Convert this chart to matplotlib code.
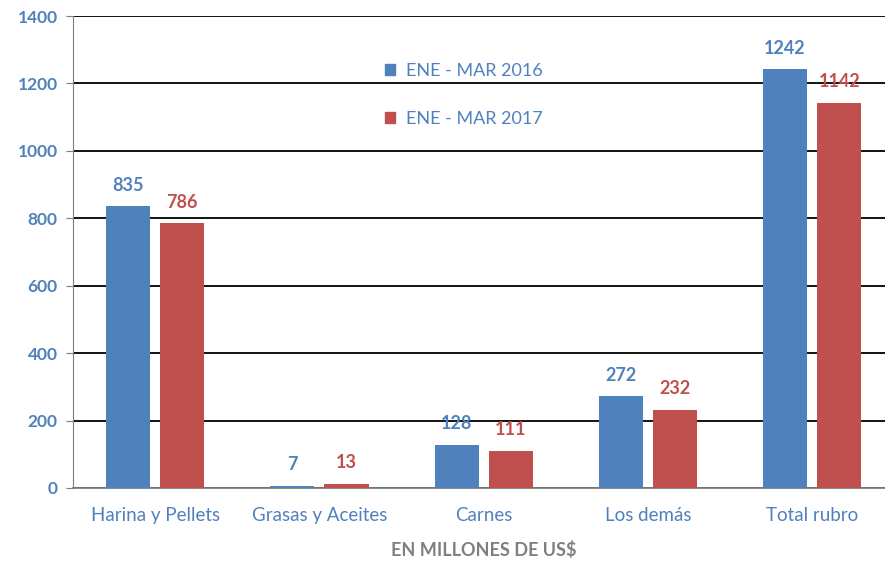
import matplotlib
matplotlib.use("Agg")
import matplotlib.pyplot as plt
import numpy as np
from matplotlib.patches import Patch

categories = ["Harina y Pellets", "Grasas y Aceites", "Carnes", "Los demás", "Total rubro"]
series_names = ["ENE - MAR 2016", "ENE - MAR 2017"]
values_2016 = [835, 7, 128, 272, 1242]
values_2017 = [786, 13, 111, 232, 1142]
yticks = [0, 200, 400, 600, 800, 1000, 1200, 1400]

BLUE = "#4F81BD"
RED = "#C0504D"
GRAY = "#7F7F7F"

plt.rcParams["font.family"] = ["Lato", "DejaVu Sans"]

fig = plt.figure(figsize=(8.85, 5.62), dpi=100)
# plot area runs a little past the right edge, as in the source
ax = fig.add_axes([0.0825, 0.1317, 0.928, 0.8398])

x = np.arange(len(categories))
w = 0.268
off = 0.165
b1 = ax.bar(x - off, values_2016, w, color=BLUE, zorder=3)
b2 = ax.bar(x + off, values_2017, w, color=RED, zorder=3)

for bars, vals, col in ((b1, values_2016, BLUE), (b2, values_2017, RED)):
    for rect, v in zip(bars, vals):
        ax.annotate(str(v), (rect.get_x() + rect.get_width() / 2, v),
                    xytext=(0, 9), textcoords="offset points",
                    ha="center", va="bottom", color=col,
                    fontsize=13, fontweight="bold", zorder=4)

ax.set_xlim(-0.5, len(categories) - 0.5)
ax.set_ylim(0, 1400)
ax.set_yticks(yticks)
ax.set_xticks(x)
ax.set_xticklabels(categories, color=BLUE, fontsize=13.5)
for lab in ax.get_yticklabels():
    lab.set_color(BLUE)
    lab.set_fontweight("bold")
    lab.set_fontsize(12.5)
ax.tick_params(axis="y", length=5, color=GRAY, pad=6)
ax.tick_params(axis="x", length=0, pad=14)
ax.grid(axis="y", color="black", linewidth=1.3, zorder=0)
ax.set_axisbelow(True)
for s in ("top", "right"):
    ax.spines[s].set_visible(False)
ax.spines["left"].set_color(GRAY)
ax.spines["bottom"].set_color(GRAY)
ax.spines["bottom"].set_linewidth(1.3)

ax.set_xlabel("EN MILLONES DE US$", color=GRAY, fontweight="bold",
              fontsize=13, labelpad=12)

handles = [Patch(color=BLUE), Patch(color=RED)]
ax.legend(handles, series_names, loc="upper left", bbox_to_anchor=(0.36, 0.935),
          frameon=False, labelcolor=BLUE, fontsize=13, handlelength=0.55,
          handleheight=0.55, handletextpad=0.6, labelspacing=1.75)

fig.savefig("out.png", dpi=100)
